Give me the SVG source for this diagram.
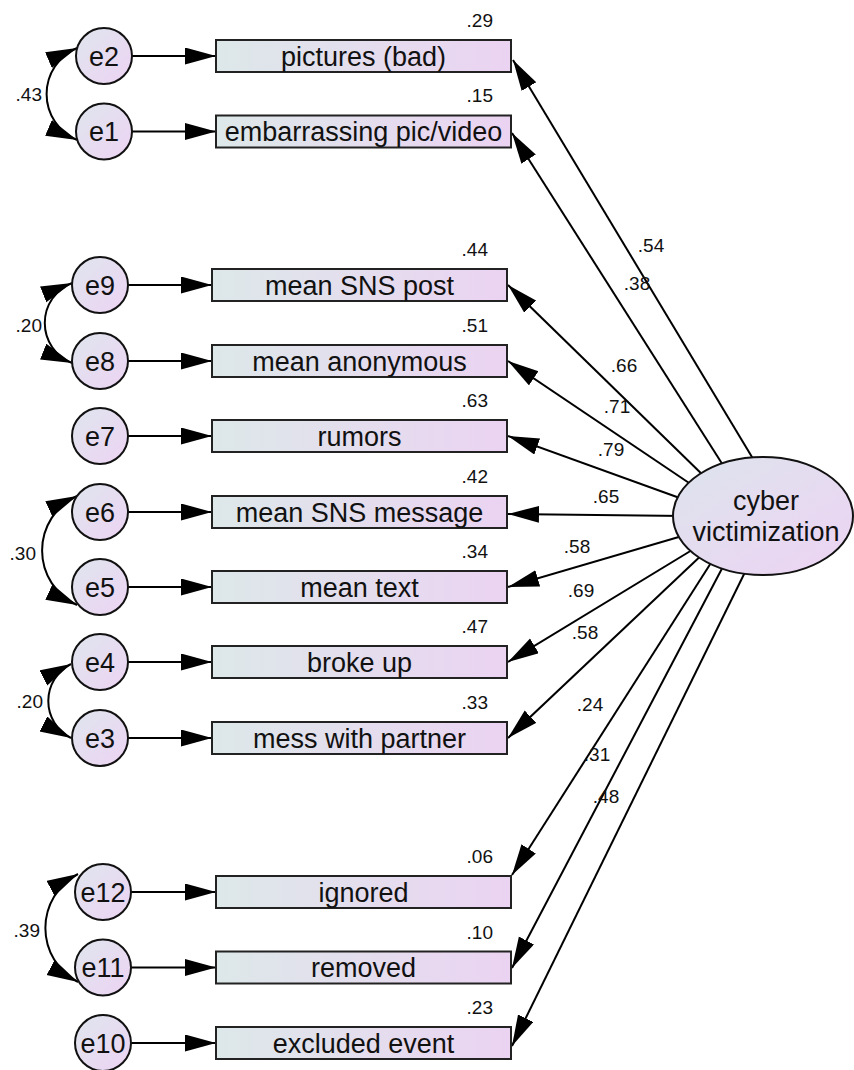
<svg xmlns="http://www.w3.org/2000/svg" width="854" height="1070" viewBox="0 0 854 1070">
<style>
.box{fill:url(#gb);stroke:#222;stroke-width:2}
.err{fill:url(#gc);stroke:#111;stroke-width:2}
.lat{fill:url(#ge);stroke:#111;stroke-width:2}
.t{font-family:"Liberation Sans",Arial,sans-serif;font-size:27px;fill:#111;text-anchor:middle}
.n{font-family:"Liberation Sans",Arial,sans-serif;font-size:19px;fill:#111}
.r{text-anchor:end}
.m{text-anchor:middle}
.c{fill:none;stroke:#000;stroke-width:2}
.a{marker-end:url(#ah)}
.d{marker-start:url(#ahs);marker-end:url(#ah)}
</style>
<defs>
<linearGradient id="gb" x1="0" y1="0" x2="1" y2="0"><stop offset="0" stop-color="#dde8e9"/><stop offset="1" stop-color="#ebd3f2"/></linearGradient>
<linearGradient id="gc" x1="0" y1="0" x2="1" y2="1"><stop offset="0" stop-color="#dfe6ee"/><stop offset="1" stop-color="#edd3f3"/></linearGradient>
<linearGradient id="ge" x1="0" y1="0" x2="1" y2="1"><stop offset="0" stop-color="#dde4ed"/><stop offset="1" stop-color="#edd3f3"/></linearGradient>
<marker id="ah" markerUnits="userSpaceOnUse" markerWidth="32" markerHeight="18" refX="31" refY="8.5" orient="auto"><path d="M0,0 L31,8.5 L0,17 z" fill="#000"/></marker>
<marker id="ahs" markerUnits="userSpaceOnUse" markerWidth="32" markerHeight="18" refX="31" refY="8.5" orient="auto-start-reverse"><path d="M0,0 L31,8.5 L0,17 z" fill="#000"/></marker>
</defs>
<g id="connectors">
<line class="c a" x1="132" y1="56" x2="216" y2="56"/>
<line class="c a" x1="132" y1="131.5" x2="216" y2="131.5"/>
<line class="c a" x1="128" y1="285" x2="212" y2="285"/>
<line class="c a" x1="128" y1="361" x2="212" y2="361"/>
<line class="c a" x1="128" y1="436" x2="212" y2="436"/>
<line class="c a" x1="128" y1="512" x2="212" y2="512"/>
<line class="c a" x1="128" y1="587" x2="212" y2="587"/>
<line class="c a" x1="128" y1="662" x2="212" y2="662"/>
<line class="c a" x1="128" y1="738" x2="212" y2="738"/>
<line class="c a" x1="131" y1="892" x2="216" y2="892"/>
<line class="c a" x1="131" y1="967.5" x2="216" y2="967.5"/>
<line class="c a" x1="131" y1="1043" x2="216" y2="1043"/>
<path class="c d" d="M77,48 A50,50 0 0 0 77,140"/>
<path class="c d" d="M72,283 A43,43 0 0 0 72,363"/>
<path class="c d" d="M77,496 A60,60 0 0 0 77,605"/>
<path class="c d" d="M71,664 A41.5,41.5 0 0 0 71,738"/>
<path class="c d" d="M78,874 A61,61 0 0 0 78,982"/>
<line class="c a" x1="758" y1="467" x2="513" y2="60"/>
<line class="c a" x1="728" y1="473" x2="512" y2="133"/>
<line class="c a" x1="709" y1="481" x2="508" y2="285"/>
<line class="c a" x1="698" y1="489" x2="508" y2="361"/>
<line class="c a" x1="688" y1="501" x2="508" y2="436"/>
<line class="c a" x1="685" y1="516" x2="508" y2="514"/>
<line class="c a" x1="689" y1="534" x2="508" y2="587"/>
<line class="c a" x1="697" y1="547" x2="508" y2="662"/>
<line class="c a" x1="707" y1="550" x2="508" y2="738"/>
<line class="c a" x1="716" y1="555" x2="512" y2="875"/>
<line class="c a" x1="727" y1="559" x2="512" y2="968"/>
<line class="c a" x1="750" y1="562" x2="512" y2="1046"/>
</g>
<g id="e2"><circle class="err" cx="104" cy="56" r="28"/><text class="t" x="104" y="65.5">e2</text></g>
<g id="e1"><circle class="err" cx="104" cy="131.5" r="28"/><text class="t" x="104" y="141">e1</text></g>
<g id="e9"><circle class="err" cx="100" cy="285" r="28"/><text class="t" x="100" y="294.5">e9</text></g>
<g id="e8"><circle class="err" cx="100" cy="361" r="28"/><text class="t" x="100" y="370.5">e8</text></g>
<g id="e7"><circle class="err" cx="100" cy="436" r="28"/><text class="t" x="100" y="445.5">e7</text></g>
<g id="e6"><circle class="err" cx="100" cy="512" r="28"/><text class="t" x="100" y="521.5">e6</text></g>
<g id="e5"><circle class="err" cx="100" cy="587" r="28"/><text class="t" x="100" y="596.5">e5</text></g>
<g id="e4"><circle class="err" cx="100" cy="662" r="28"/><text class="t" x="100" y="671.5">e4</text></g>
<g id="e3"><circle class="err" cx="100" cy="738" r="28"/><text class="t" x="100" y="747.5">e3</text></g>
<g id="e12"><circle class="err" cx="103" cy="892" r="28"/><text class="t" x="103" y="901.5">e12</text></g>
<g id="e11"><circle class="err" cx="103" cy="967.5" r="28"/><text class="t" x="103" y="977">e11</text></g>
<g id="e10"><circle class="err" cx="103" cy="1043" r="28"/><text class="t" x="103" y="1052.5">e10</text></g>
<g id="pictures"><rect class="box" x="216" y="40" width="295" height="32"/><text class="t" x="363.5" y="65.5">pictures (bad)</text><text class="n r" x="493" y="27">.29</text></g>
<g id="embarrassing"><rect class="box" x="216" y="115.5" width="295" height="32"/><text class="t" x="363.5" y="141">embarrassing pic/video</text><text class="n r" x="493" y="102">.15</text></g>
<g id="snspost"><rect class="box" x="212" y="269" width="295" height="32"/><text class="t" x="359.5" y="294.5">mean SNS post</text><text class="n r" x="488" y="256">.44</text></g>
<g id="anonymous"><rect class="box" x="212" y="345" width="295" height="32"/><text class="t" x="359.5" y="370.5">mean anonymous</text><text class="n r" x="488" y="332">.51</text></g>
<g id="rumors"><rect class="box" x="212" y="420" width="295" height="32"/><text class="t" x="359.5" y="445.5">rumors</text><text class="n r" x="488" y="407">.63</text></g>
<g id="snsmessage"><rect class="box" x="212" y="496" width="295" height="32"/><text class="t" x="359.5" y="521.5">mean SNS message</text><text class="n r" x="488" y="483">.42</text></g>
<g id="meantext"><rect class="box" x="212" y="571" width="295" height="32"/><text class="t" x="359.5" y="596.5">mean text</text><text class="n r" x="488" y="558">.34</text></g>
<g id="brokeup"><rect class="box" x="212" y="646" width="295" height="32"/><text class="t" x="359.5" y="671.5">broke up</text><text class="n r" x="488" y="633">.47</text></g>
<g id="messpartner"><rect class="box" x="212" y="722" width="295" height="32"/><text class="t" x="359.5" y="747.5">mess with partner</text><text class="n r" x="488" y="709">.33</text></g>
<g id="ignored"><rect class="box" x="216" y="876" width="295" height="32"/><text class="t" x="363.5" y="901.5">ignored</text><text class="n r" x="493" y="863">.06</text></g>
<g id="removed"><rect class="box" x="216" y="951.5" width="295" height="32"/><text class="t" x="363.5" y="977">removed</text><text class="n r" x="493" y="938.5">.10</text></g>
<g id="excluded"><rect class="box" x="216" y="1027" width="295" height="32"/><text class="t" x="363.5" y="1052.5">excluded event</text><text class="n r" x="493" y="1014">.23</text></g>
<g id="cyber"><ellipse class="lat" cx="763" cy="516" rx="90" ry="59"/><text class="t" x="766" y="510">cyber</text><text class="t" x="766" y="541">victimization</text></g>
<g id="labels">
<text class="n r" x="42" y="101">.43</text>
<text class="n r" x="42" y="332">.20</text>
<text class="n r" x="36" y="560">.30</text>
<text class="n r" x="43" y="708">.20</text>
<text class="n r" x="40" y="937">.39</text>
<text class="n m" x="651" y="252">.54</text>
<text class="n m" x="637" y="290">.38</text>
<text class="n m" x="624" y="372">.66</text>
<text class="n m" x="617" y="413">.71</text>
<text class="n m" x="611" y="456">.79</text>
<text class="n m" x="606" y="503">.65</text>
<text class="n m" x="577" y="553">.58</text>
<text class="n m" x="581" y="597">.69</text>
<text class="n m" x="585" y="639">.58</text>
<text class="n m" x="590" y="711">.24</text>
<text class="n m" x="597" y="761">.31</text>
<text class="n m" x="606" y="803">.48</text>
</g>
</svg>
